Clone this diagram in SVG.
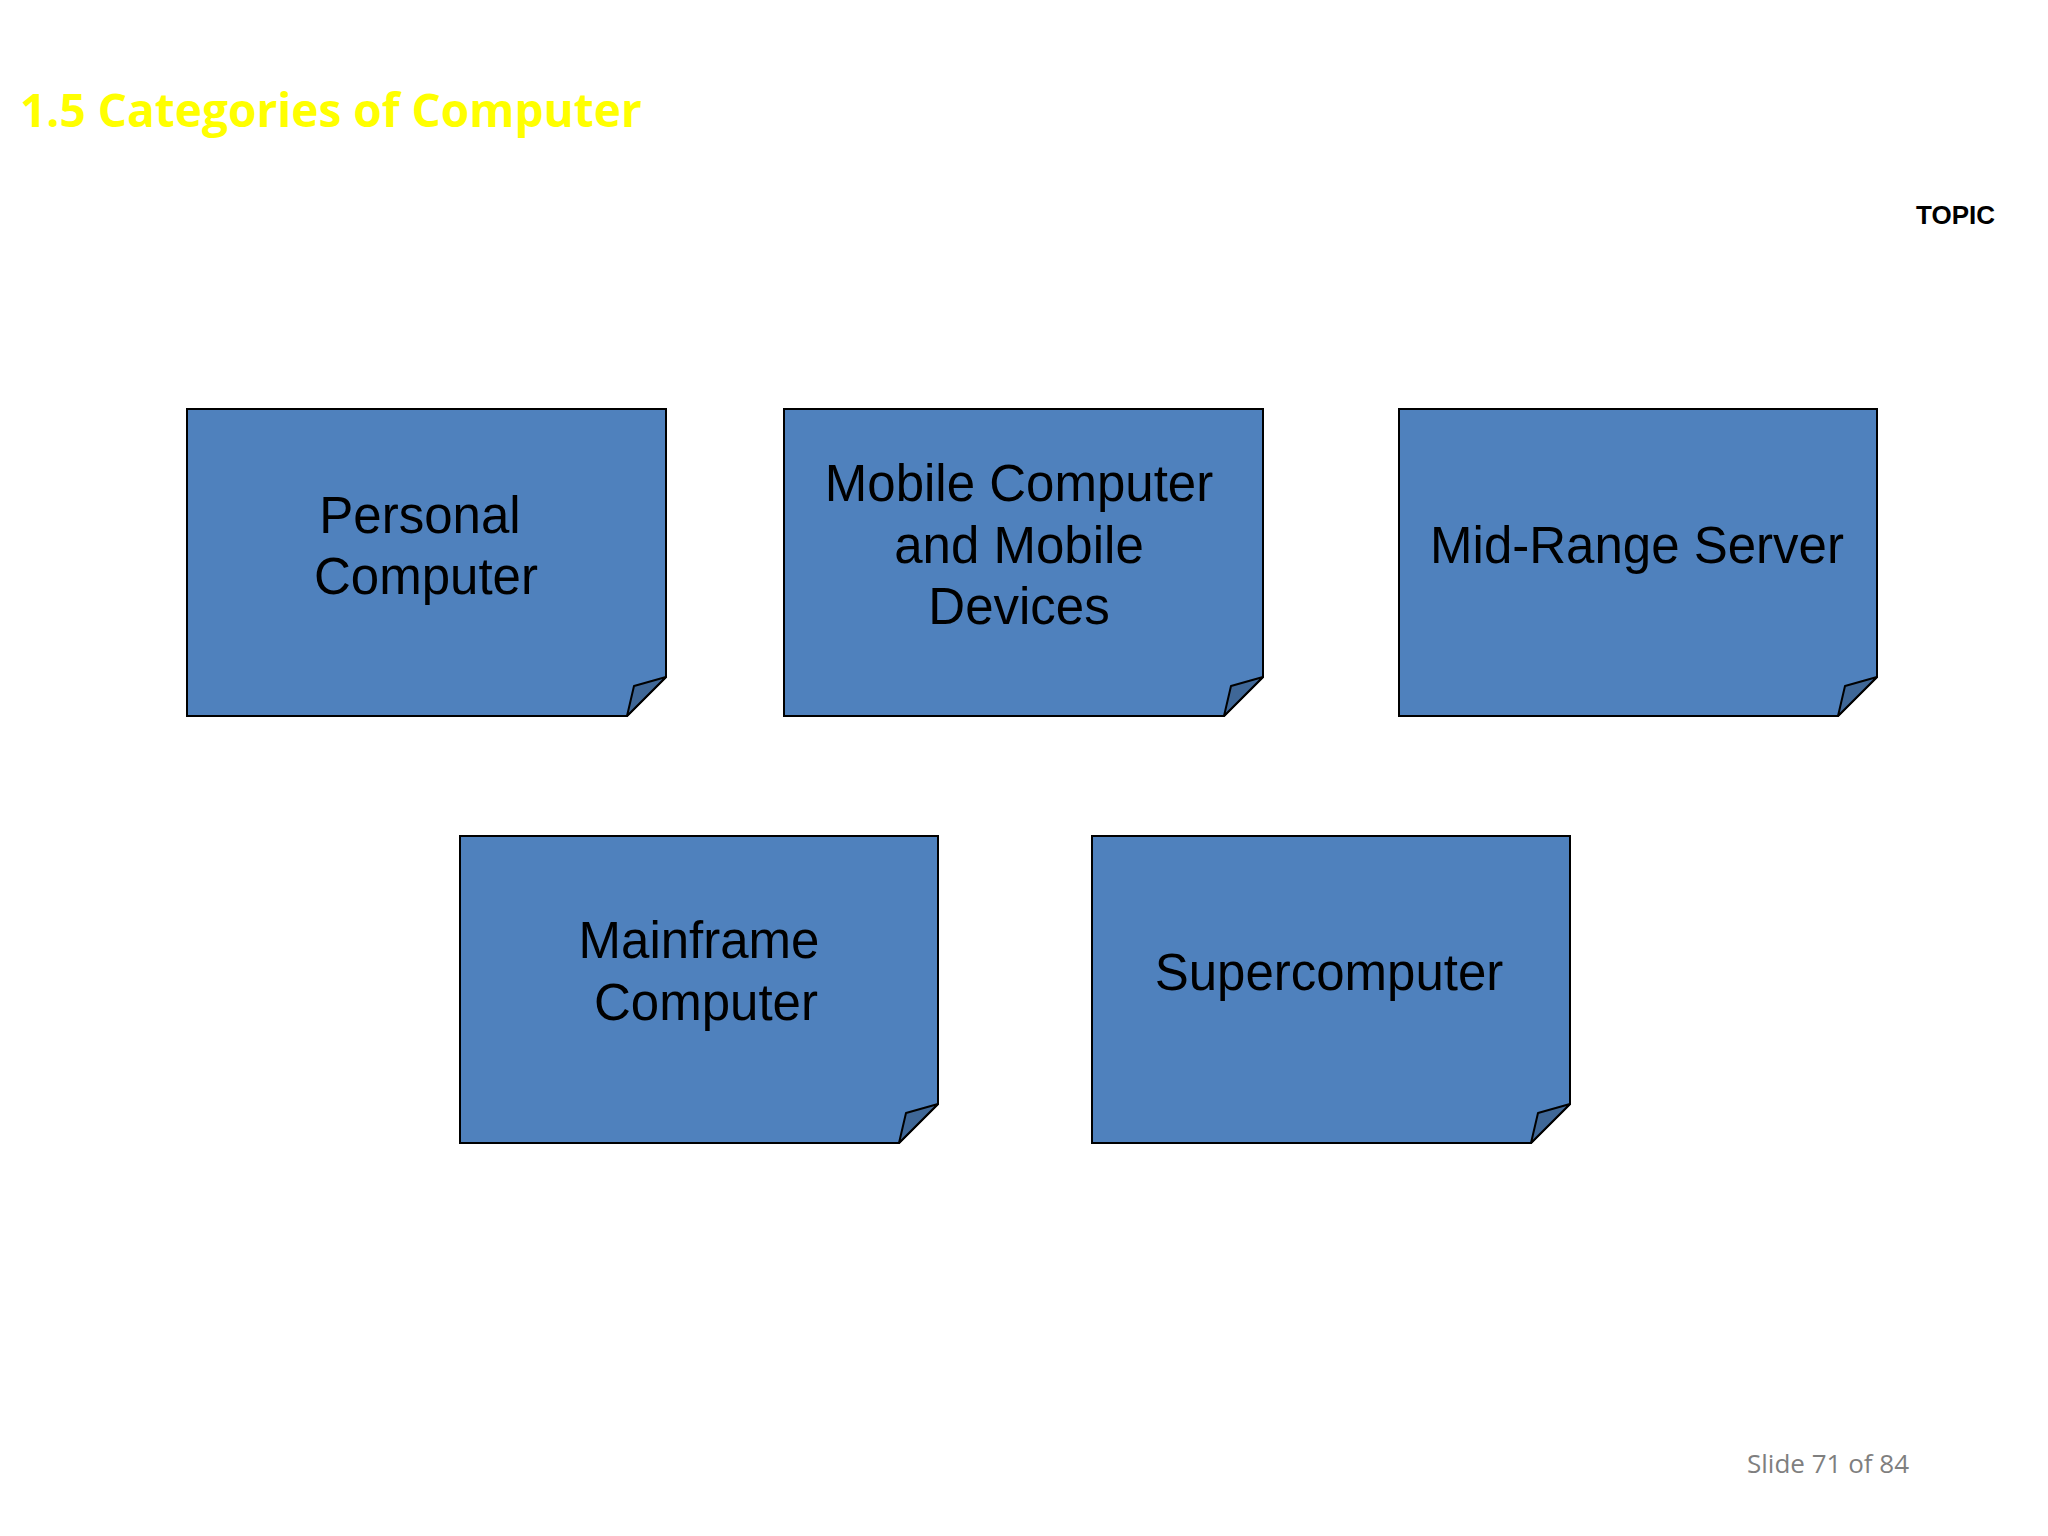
<svg xmlns="http://www.w3.org/2000/svg" width="2048" height="1536" viewBox="0 0 2048 1536">
<style>
.b{fill:#4f81bd;stroke:#000;stroke-width:2}
.f{fill:#3f6797;stroke:#000;stroke-width:2;stroke-linejoin:round}
.t{font-family:"Liberation Sans",Arial,sans-serif;font-size:51px;fill:#000;text-anchor:middle}
</style>
<rect width="2048" height="1536" fill="#fff"/>
<text x="20" y="127" font-family="'Open Sans','Noto Sans',sans-serif" font-weight="bold" font-size="46" fill="#ffff00">1.5 Categories of Computer</text>
<text x="1995" y="224" font-family="'Liberation Sans',Arial,sans-serif" font-weight="bold" font-size="26" fill="#000" text-anchor="end">TOPIC</text>
<text x="1747" y="1473" font-family="'Open Sans','Noto Sans',sans-serif" font-size="26" fill="#7f7f7f">Slide 71 of 84</text>
<g id="n1"><path class="b" d="M187 409H666V677L627 716H187Z"/><path class="f" d="M627 716L666 677L634 686Z"/><text class="t" x="420" y="533">Personal</text><text class="t" x="426" y="594">Computer</text></g>
<g id="n2"><path class="b" d="M784 409H1263V677L1224 716H784Z"/><path class="f" d="M1224 716L1263 677L1231 686Z"/><text class="t" x="1019" y="501">Mobile Computer</text><text class="t" x="1019" y="563">and Mobile</text><text class="t" x="1019" y="624">Devices</text></g>
<g id="n3"><path class="b" d="M1399 409H1877V677L1838 716H1399Z"/><path class="f" d="M1838 716L1877 677L1845 686Z"/><text class="t" x="1637" y="563">Mid-Range Server</text></g>
<g id="n4"><path class="b" d="M460 836H938V1104L899 1143H460Z"/><path class="f" d="M899 1143L938 1104L906 1113Z"/><text class="t" x="699" y="958">Mainframe</text><text class="t" x="706" y="1020">Computer</text></g>
<g id="n5"><path class="b" d="M1092 836H1570V1104L1531 1143H1092Z"/><path class="f" d="M1531 1143L1570 1104L1538 1113Z"/><text class="t" x="1329" y="990">Supercomputer</text></g>
<g id="connectors"/>
</svg>
